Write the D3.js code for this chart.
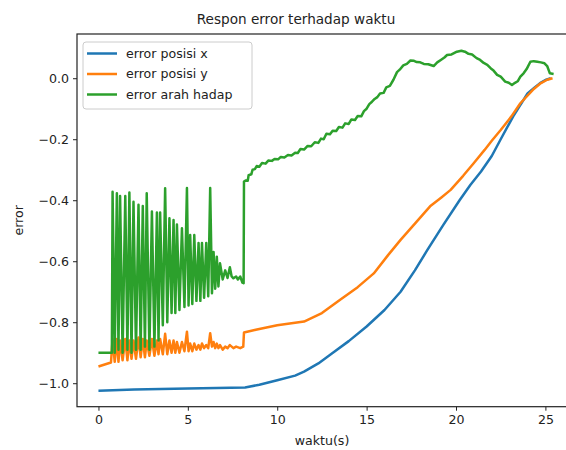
<!DOCTYPE html>
<html lang="en">
<head>
    <meta charset="UTF-8">
    <title>Respon error terhadap waktu</title>
    <style>
        body { margin: 0; background: #fff; }
        text { font-family: "DejaVu Sans", sans-serif; fill: #222; }
    </style>
</head>
<body>
    <div id="container"></div>

    <script type="text/javascript" src="https://d3js.org/d3.v7.min.js"></script>
    <script type="text/javascript">
        // error posisi x
        var timeX = [0, 2, 5, 8.2, 9, 10, 11, 11.5, 12.3, 13, 14, 15, 16, 16.9, 17.7, 18.4, 19.3, 20.2,
            20.8, 21.4, 22.0, 22.5, 23.2, 24.0, 24.4, 24.7, 25.0, 25.3];
        var errX = [-1.025, -1.021, -1.017, -1.014, -1.005, -0.99, -0.975, -0.962, -0.935, -0.905, -0.862,
            -0.814, -0.76, -0.70, -0.63, -0.563, -0.48, -0.40, -0.35, -0.306, -0.255, -0.20, -0.125, -0.05,
            -0.03, -0.016, -0.006, 0.0];

        // error posisi y
        var timeY = [0, 0.70, 0.79, 0.91, 1.03, 1.12, 1.21, 1.35, 1.50, 1.62, 1.73, 1.85, 1.96, 2.10, 2.24,
            2.36, 2.48, 2.60, 2.70, 2.85, 2.99, 3.13, 3.27, 3.36, 3.45, 3.60, 3.73, 3.85, 3.97, 4.09, 4.20,
            4.30, 4.39, 4.53, 4.67, 4.81, 4.95, 5.04, 5.13, 5.25, 5.36, 5.48, 5.60, 5.70, 5.79, 5.91, 6.03,
            6.14, 6.25, 6.35, 6.44, 6.53, 6.62, 6.71, 6.80, 6.95, 7.09, 7.22, 7.35, 7.55, 7.70, 7.93, 8.10,
            8.14, 8.8, 10.0, 11.5, 12.5, 13.5, 14.5, 15.4, 16.2, 16.9, 17.8, 18.55, 19.2, 19.7, 20.4, 21.0,
            21.6, 22.0, 22.5, 23.1, 23.6, 24.3, 24.7, 25.1, 25.4];
        var errY = [-0.945, -0.932, -0.855, -0.93, -0.855, -0.93, -0.86, -0.925, -0.855, -0.925, -0.86,
            -0.92, -0.86, -0.92, -0.85, -0.915, -0.855, -0.915, -0.86, -0.91, -0.855, -0.91, -0.86, -0.905,
            -0.855, -0.905, -0.838, -0.905, -0.86, -0.90, -0.86, -0.90, -0.865, -0.90, -0.865, -0.895,
            -0.831, -0.895, -0.87, -0.895, -0.87, -0.89, -0.875, -0.89, -0.87, -0.885, -0.875, -0.885,
            -0.836, -0.88, -0.865, -0.885, -0.87, -0.885, -0.875, -0.89, -0.88, -0.885, -0.875, -0.885,
            -0.88, -0.885, -0.88, -0.834, -0.825, -0.81, -0.798, -0.77, -0.727, -0.685, -0.64, -0.58,
            -0.53, -0.47, -0.42, -0.39, -0.366, -0.32, -0.278, -0.235, -0.205, -0.17, -0.125, -0.082,
            -0.038, -0.018, -0.005, 0.0];

        // error arah hadap
        var timeH = [0, 0.75, 0.79, 0.91, 1.03, 1.12, 1.21, 1.35, 1.50, 1.62, 1.73, 1.85, 1.96, 2.10, 2.24,
            2.36, 2.48, 2.60, 2.70, 2.85, 2.99, 3.13, 3.27, 3.36, 3.45, 3.60, 3.73, 3.85, 3.97, 4.09, 4.20,
            4.30, 4.39, 4.53, 4.67, 4.81, 4.95, 5.04, 5.13, 5.25, 5.36, 5.48, 5.60, 5.70, 5.79, 5.91, 6.03,
            6.14, 6.25, 6.35, 6.44, 6.53, 6.62, 6.71, 6.80, 6.95, 7.09, 7.22, 7.35, 7.45, 7.55, 7.70, 7.80,
            7.93, 8.05, 8.12, 8.14, 8.25, 8.35, 8.40, 8.55, 8.62, 8.75, 8.85, 9.0, 9.15, 9.35, 9.5, 9.7,
            9.85, 10.05, 10.2, 10.4, 10.6, 10.8, 11.0, 11.15, 11.3, 11.5, 11.7, 11.9, 12.1, 12.3, 12.45,
            12.6, 12.75, 12.95, 13.1, 13.3, 13.45, 13.65, 13.8, 14.0, 14.15, 14.35, 14.5, 14.7, 14.85, 15.0,
            15.15, 15.3, 15.45, 15.6, 15.75, 15.95, 16.1, 16.3, 16.5, 16.7, 16.85, 17.05, 17.25, 17.45,
            17.65, 17.8, 18.0, 18.2, 18.45, 18.75, 18.95, 19.15, 19.35, 19.5, 19.75, 20.05, 20.3, 20.5,
            20.7, 20.9, 21.15, 21.35, 21.55, 21.75, 21.95, 22.1, 22.3, 22.5, 22.75, 22.95, 23.13, 23.3,
            23.45, 23.6, 23.78, 23.95, 24.16, 24.35, 24.55, 24.75, 24.95, 25.1, 25.25, 25.46];
        var errH = [-0.90, -0.90, -0.372, -0.90, -0.377, -0.89, -0.386, -0.90, -0.386, -0.89, -0.375,
            -0.90, -0.405, -0.89, -0.415, -0.89, -0.419, -0.88, -0.377, -0.89, -0.437, -0.88, -0.44, -0.86,
            -0.44, -0.81, -0.361, -0.80, -0.459, -0.77, -0.465, -0.77, -0.48, -0.76, -0.492, -0.75, -0.36,
            -0.745, -0.514, -0.74, -0.514, -0.73, -0.54, -0.73, -0.54, -0.72, -0.54, -0.715, -0.36, -0.705,
            -0.57, -0.69, -0.585, -0.683, -0.607, -0.66, -0.63, -0.655, -0.62, -0.65, -0.656, -0.65, -0.66,
            -0.65, -0.67, -0.672, -0.339, -0.335, -0.336, -0.318, -0.315, -0.300, -0.298, -0.288, -0.290,
            -0.278, -0.280, -0.270, -0.271, -0.265, -0.266, -0.258, -0.260, -0.252, -0.253, -0.244, -0.245,
            -0.232, -0.234, -0.222, -0.223, -0.210, -0.212, -0.198, -0.200, -0.182, -0.184, -0.172, -0.173,
            -0.160, -0.162, -0.148, -0.150, -0.135, -0.137, -0.124, -0.125, -0.108, -0.100, -0.085, -0.077,
            -0.068, -0.062, -0.050, -0.048, -0.030, -0.025, -0.005, 0.020, 0.028, 0.042, 0.047, 0.058,
            0.057, 0.053, 0.052, 0.047, 0.046, 0.040, 0.052, 0.060, 0.068, 0.076, 0.078, 0.087, 0.090,
            0.087, 0.080, 0.078, 0.066, 0.060, 0.050, 0.044, 0.032, 0.025, 0.011, 0.005, -0.011, -0.015,
            -0.022, -0.015, -0.010, 0.005, 0.016, 0.030, 0.054, 0.056, 0.054, 0.052, 0.049, 0.040, 0.016,
            0.014];

        var xTicks = [0, 5, 10, 15, 20, 25];
        var yTicks = [-1.0, -0.8, -0.6, -0.4, -0.2, 0.0];
        var seriesNames = ["error posisi x", "error posisi y", "error arah hadap"];
        var seriesColors = ["#1f77b4", "#ff7f0e", "#2ca02c"];

        var width = 566,
            height = 450,
            plotLeft = 77,
            plotTop = 34,
            plotBottom = 406.7,
            plotRight = 574; // right spine falls outside the picture

        var svg = d3.select("#container")
            .append("svg")
            .attr("width", width)
            .attr("height", height);

        var x = d3.scaleLinear().domain([-1.2, 26.6]).range([plotLeft, plotRight]);
        var y = d3.scaleLinear().domain([-1.077, 0.145]).range([plotBottom, plotTop]);

        svg.append("clipPath")
            .attr("id", "plot-clip")
            .append("rect")
            .attr("x", plotLeft)
            .attr("y", plotTop)
            .attr("width", plotRight - plotLeft)
            .attr("height", plotBottom - plotTop);

        // Build one list of points per series from the arrays above.
        var series = [
            d3.zip(timeX, errX),
            d3.zip(timeY, errY),
            d3.zip(timeH, errH)
        ];

        var line = d3.line()
            .x(function(d) { return x(d[0]); })
            .y(function(d) { return y(d[1]); });

        svg.append("g")
            .attr("clip-path", "url(#plot-clip)")
            .selectAll("path")
            .data(series)
            .enter()
            .append("path")
            .attr("d", line)
            .attr("fill", "none")
            .attr("stroke", function(d, i) { return seriesColors[i]; })
            .attr("stroke-width", 2.5)
            .attr("stroke-linejoin", "round");

        // Axes
        var xAxis = svg.append("g")
            .attr("transform", "translate(0," + plotBottom + ")")
            .call(d3.axisBottom(x).tickValues(xTicks).tickSize(4).tickPadding(4).tickFormat(d3.format("d")));

        var yAxis = svg.append("g")
            .attr("transform", "translate(" + plotLeft + ",0)")
            .call(d3.axisLeft(y).tickValues(yTicks).tickSize(4).tickPadding(4)
                .tickFormat(function(d) { return d3.format(".1f")(d).replace("-", "\u2212"); }));

        [xAxis, yAxis].forEach(function(ax) {
            ax.select(".domain").remove();
            ax.selectAll("line").attr("stroke", "#222").attr("stroke-width", 1);
            ax.selectAll("text").attr("font-size", 12.6).attr("fill", "#222")
                .style("font-family", "'DejaVu Sans', sans-serif");
        });

        // Frame (top, left, bottom; the right one is cut off)
        svg.append("rect")
            .attr("x", plotLeft)
            .attr("y", plotTop)
            .attr("width", plotRight - plotLeft)
            .attr("height", plotBottom - plotTop)
            .attr("fill", "none")
            .attr("stroke", "#222")
            .attr("stroke-width", 1.2);

        svg.append("text")
            .attr("x", 296)
            .attr("y", 24)
            .attr("text-anchor", "middle")
            .attr("font-size", 13.6)
            .text("Respon error terhadap waktu");

        svg.append("text")
            .attr("x", 322)
            .attr("y", 445)
            .attr("text-anchor", "middle")
            .attr("font-size", 12.6)
            .text("waktu(s)");

        svg.append("text")
            .attr("transform", "translate(23," + ((plotTop + plotBottom) / 2) + ") rotate(-90)")
            .attr("text-anchor", "middle")
            .attr("font-size", 12.6)
            .text("error");

        // Legend
        var legend = svg.append("g")
            .attr("class", "legend")
            .attr("transform", "translate(83,42)");

        legend.append("rect")
            .attr("width", 169)
            .attr("height", 67)
            .attr("rx", 3)
            .attr("fill", "#fff")
            .attr("fill-opacity", 0.8)
            .attr("stroke", "#cccccc");

        var entry = legend.selectAll("g.entry")
            .data(seriesNames)
            .enter()
            .append("g")
            .attr("class", "entry")
            .attr("transform", function(d, i) { return "translate(0," + (11.5 + i * 20.5) + ")"; });

        entry.append("line")
            .attr("x1", 4)
            .attr("x2", 34)
            .attr("stroke", function(d, i) { return seriesColors[i]; })
            .attr("stroke-width", 2.5);

        entry.append("text")
            .attr("x", 43)
            .attr("dy", "0.35em")
            .attr("font-size", 12.6)
            .text(function(d) { return d; });
    </script>
</body>
</html>
